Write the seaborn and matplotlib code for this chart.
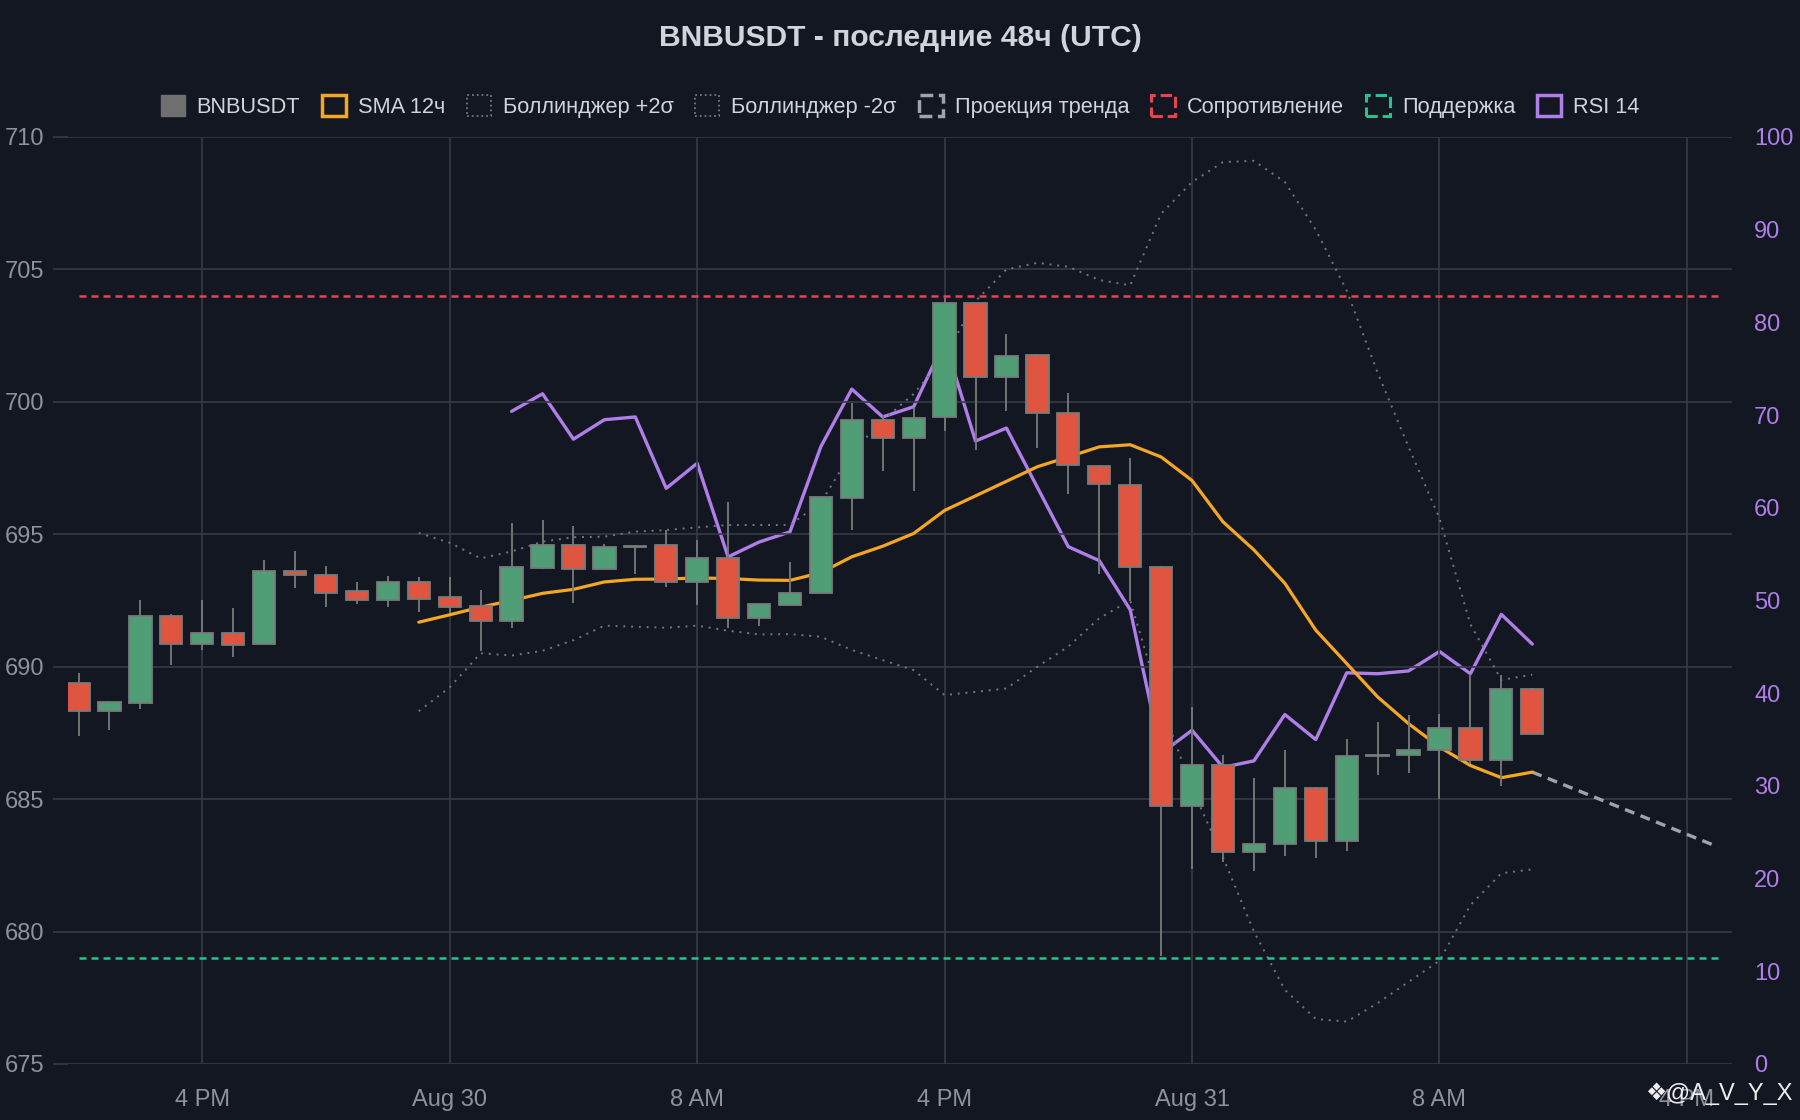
import numpy as np
import pandas as pd
import matplotlib
matplotlib.use("Agg")
import matplotlib.pyplot as plt
from matplotlib.patches import Patch
import seaborn as sns

# --- data (hourly candles from Aug 29 12:00 UTC) ---
opens = [689.37, 688.32, 688.63, 691.90, 690.86, 691.27, 690.84, 693.62, 693.48, 692.84, 692.53, 693.20,
         692.62, 692.28, 691.74, 693.74, 694.60, 693.68, 694.56, 694.60, 693.20, 694.12, 691.85, 692.33,
         692.78, 696.38, 699.33, 698.62, 699.42, 703.72, 700.92, 701.77, 699.56, 697.58, 696.87, 693.76,
         684.74, 686.27, 683.00, 683.31, 685.42, 683.41, 686.64, 686.65, 686.84, 687.69, 686.46, 689.17]
highs = [689.75, 688.70, 692.53, 691.99, 692.53, 692.23, 694.03, 694.38, 693.80, 693.20, 693.44, 693.39,
         693.39, 692.91, 695.42, 695.55, 695.30, 694.63, 694.58, 695.16, 694.79, 696.23, 692.36, 693.96,
         696.42, 699.96, 699.50, 699.81, 703.91, 703.75, 702.56, 701.80, 700.32, 697.60, 697.89, 693.80,
         688.48, 686.65, 685.81, 686.87, 685.45, 687.26, 687.91, 688.17, 688.23, 689.74, 689.68, 689.20]
lows = [687.38, 687.62, 688.40, 690.06, 690.63, 690.38, 690.84, 692.96, 692.27, 692.35, 692.24, 692.06,
        692.03, 690.61, 691.45, 693.70, 692.42, 693.68, 693.49, 693.00, 692.33, 691.45, 691.54, 692.33,
        692.78, 695.16, 697.39, 696.63, 698.90, 698.17, 699.65, 698.27, 696.53, 693.50, 692.49, 679.09,
        682.36, 682.62, 682.30, 682.87, 682.78, 683.06, 685.90, 686.00, 685.00, 686.33, 685.51, 687.47]
closes = [688.32, 688.66, 691.90, 690.86, 691.27, 690.81, 693.60, 693.47, 692.78, 692.52, 693.19, 692.57,
          692.27, 691.72, 693.76, 694.59, 693.70, 694.51, 694.53, 693.20, 694.12, 691.85, 692.36, 692.80,
          696.40, 699.33, 698.62, 699.39, 703.72, 700.92, 701.74, 699.56, 697.60, 696.88, 693.78, 684.73,
          686.27, 683.00, 683.31, 685.42, 683.41, 686.63, 686.66, 686.84, 687.69, 686.46, 689.17, 687.47]

# SMA 12 and Bollinger bands start at candle 11, RSI 14 at candle 14
sma12 = [691.68, 691.96, 692.25, 692.50, 692.77, 692.92, 693.20, 693.30, 693.31, 693.35, 693.33, 693.27,
         693.26, 693.55, 694.15, 694.55, 695.03, 695.90, 696.45, 697.00, 697.55, 697.92, 698.30, 698.38,
         697.92, 697.03, 695.47, 694.41, 693.15, 691.38, 690.12, 688.86, 687.85, 686.97, 686.27, 685.81, 686.02]
bb_upper = [695.05, 694.68, 694.09, 694.35, 694.72, 694.89, 694.91, 695.10, 695.16, 695.26, 695.35, 695.35,
            695.35, 696.20, 698.10, 699.30, 700.30, 701.70, 703.80, 705.00, 705.25, 705.10, 704.60, 704.40,
            707.10, 708.30, 709.05, 709.10, 708.30, 706.50, 704.20, 701.10, 698.30, 695.60, 691.60, 689.50, 689.70]
bb_lower = [688.32, 689.22, 690.51, 690.42, 690.60, 691.00, 691.55, 691.51, 691.47, 691.55, 691.36, 691.22,
            691.23, 691.13, 690.63, 690.25, 689.87, 688.93, 689.05, 689.18, 690.00, 690.76, 691.83, 692.50,
            688.60, 685.40, 682.80, 680.00, 677.80, 676.70, 676.60, 677.30, 678.10, 678.90, 681.00, 682.20, 682.35]
rsi14 = [70.4, 72.3, 67.4, 69.5, 69.8, 62.1, 64.8, 54.7, 56.3, 57.4, 66.6, 72.8,
         69.8, 70.9, 78.0, 67.2, 68.6, 62.2, 55.8, 54.3, 49.0, 33.5,
         36.0, 32.0, 32.7, 37.7, 35.0, 42.2, 42.1, 42.4, 44.5, 42.1, 48.5, 45.3]

trend_proj = [686.02, 683.20]        # from last candle to +6h
resistance = 704.0
support = 679.0

x_tick_times = ["2025-08-29 16:00", "2025-08-30 00:00", "2025-08-30 08:00", "2025-08-30 16:00",
                "2025-08-31 00:00", "2025-08-31 08:00", "2025-08-31 16:00"]
x_tick_labels = ["4 PM", "Aug 30", "8 AM", "4 PM", "Aug 31", "8 AM", "4 PM"]

title = "BNBUSDT - последние 48ч (UTC)"

# --- colours ---
BG = "#131722"
GRID = "#363a45"
TXT = "#d1d4dc"
TICK = "#8e929b"
UP = "#4f9e76"
DOWN = "#e0553f"
EDGE = "#7a7a7a"
SMA_C = "#f5a623"
BB_C = "#737887"
PROJ_C = "#a0a3a8"
RES_C = "#e8434f"
SUP_C = "#26c28e"
RSI_C = "#b07ee8"

sns.set_theme(style="dark")
plt.rcParams["font.family"] = ["Liberation Sans", "DejaVu Sans"]

times = pd.date_range("2025-08-29 12:00", periods=len(closes), freq="h")
hour = pd.Timedelta(hours=1)
proj_times = [times[-1], times[-1] + 6 * hour]

fig = plt.figure(figsize=(18, 11.2), dpi=100, facecolor=BG)
ax = fig.add_axes([0.0378, 0.05, 0.9243, 0.8277])
ax2 = ax.twinx()
ax.set_zorder(2)
ax2.set_zorder(1)
ax.patch.set_visible(False)
ax2.set_facecolor(BG)

# RSI on the right axis (behind the candles)
sns.lineplot(x=times[14:], y=rsi14, ax=ax2, color=RSI_C, lw=2.4, legend=False,
             solid_joinstyle="round", solid_capstyle="round")
ax2.set_ylim(0, 100)
ax2.set_yticks(range(0, 101, 10))
ax2.tick_params(axis="y", colors=RSI_C, labelsize=17, length=0, pad=16)
ax2.set_ylabel("")
ax2.grid(False)

# bands, SMA, levels, projection
sns.lineplot(x=times[11:], y=bb_upper, ax=ax, color=BB_C, lw=1.4, linestyle=(0, (1, 3)), legend=False, zorder=2)
sns.lineplot(x=times[11:], y=bb_lower, ax=ax, color=BB_C, lw=1.4, linestyle=(0, (1, 3)), legend=False, zorder=2)
sns.lineplot(x=times[11:], y=sma12, ax=ax, color=SMA_C, lw=2.3, legend=False, zorder=2.5,
             solid_joinstyle="round")
ax.hlines(resistance, times[0], proj_times[1], colors=RES_C, lw=1.8, linestyles=(0, (2.8, 2.0)), zorder=2)
ax.hlines(support, times[0], proj_times[1], colors=SUP_C, lw=1.8, linestyles=(0, (2.8, 2.0)), zorder=2)
ax.plot(proj_times, trend_proj, color=PROJ_C, lw=2.4, linestyle=(0, (3, 2)), zorder=2)

# candles
o = np.array(opens)
c = np.array(closes)
colors = np.where(c >= o, UP, DOWN)
ax.vlines(times, lows, highs, color=EDGE, lw=1.3, zorder=3)
ax.bar(times, c - o, bottom=o, width=0.72 / 24, color=colors, edgecolor=EDGE, linewidth=1.3, zorder=4)

ax.set_ylim(675, 710)
ax.set_yticks(np.arange(675, 711, 5))
ax.set_xlim(times[0] - 0.34 * hour, times[0] + 53.45 * hour)
ax.set_xticks(pd.to_datetime(x_tick_times))
ax.set_xticklabels(x_tick_labels)
ax.set_xlabel("")
ax.set_ylabel("")
ax.grid(True, color=GRID, lw=1.2)
ax.tick_params(axis="both", colors=GRID, labelcolor=TICK, labelsize=17, length=11, width=1.2)
ax.tick_params(axis="y", pad=6)
ax.tick_params(axis="x", pad=7)
for a in (ax, ax2):
    for s in a.spines.values():
        s.set_visible(False)

fig.text(0.5, 0.966, title, ha="center", va="center", fontsize=21.6, fontweight="bold", color=TXT)

handles = [
    Patch(facecolor="#6f6f6f", edgecolor="#6f6f6f", label="BNBUSDT"),
    Patch(facecolor="none", edgecolor=SMA_C, lw=2.5, label="SMA 12ч"),
    Patch(facecolor="none", edgecolor=BB_C, lw=1.3, linestyle=":", label="Боллинджер +2σ"),
    Patch(facecolor="none", edgecolor=BB_C, lw=1.3, linestyle=":", label="Боллинджер -2σ"),
    Patch(facecolor="none", edgecolor=PROJ_C, lw=2.5, linestyle="--", label="Проекция тренда"),
    Patch(facecolor="none", edgecolor=RES_C, lw=2.2, linestyle="--", label="Сопротивление"),
    Patch(facecolor="none", edgecolor=SUP_C, lw=2.2, linestyle="--", label="Поддержка"),
    Patch(facecolor="none", edgecolor=RSI_C, lw=2.5, label="RSI 14"),
]
fig.legend(handles=handles, loc="center", bbox_to_anchor=(0.5, 0.9046), ncol=8, frameon=False,
           fontsize=15.7, labelcolor=TXT, handlelength=1.1, handleheight=1.1,
           handletextpad=0.55, columnspacing=1.0)

fig.text(0.9956, 0.0232, "❖@A_V_Y_X", ha="right", va="center", fontsize=17, color="#eeeeee",
         family=["Liberation Sans", "DejaVu Sans"], zorder=10)

fig.savefig("out.png", dpi=100, facecolor=BG)
